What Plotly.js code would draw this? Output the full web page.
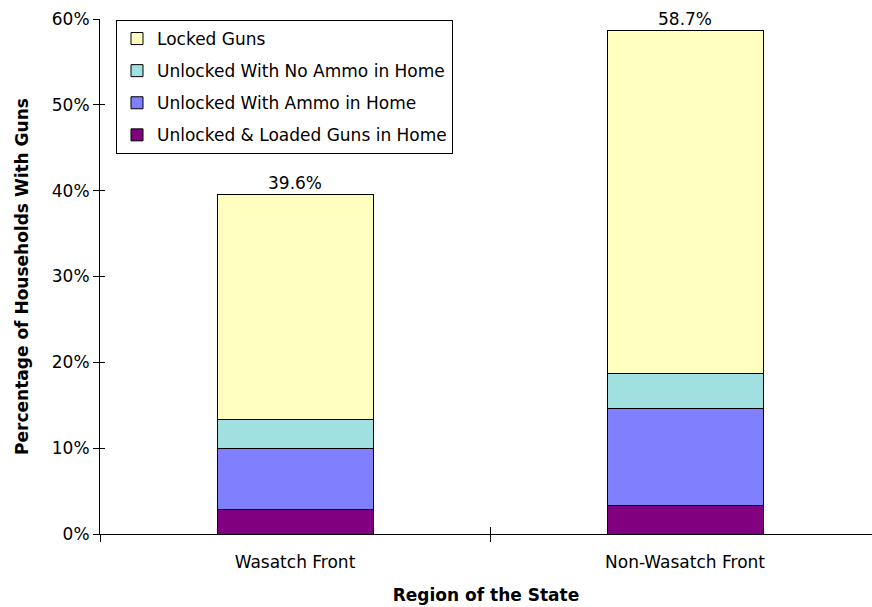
<!DOCTYPE html>
<html>
<head>
<meta charset="utf-8">
<script src="https://cdn.plot.ly/plotly-3.0.1.min.js"></script>
<style>html,body{margin:0;padding:0;background:#fff;}#chart{width:872px;height:607px;}</style>
</head>
<body>
<div id="chart"></div>
<script>
const regions = ["Wasatch Front", "Non-Wasatch Front"];
const loaded = [2.8, 3.3];
const ammo = [7.2, 11.3];
const noAmmo = [3.3, 4.1];
const locked = [26.3, 40.0];
const totals = [39.6, 58.7];
const seriesNames = ["Unlocked & Loaded Guns in Home", "Unlocked With Ammo in Home", "Unlocked With No Ammo in Home", "Locked Guns"];
const seriesColors = ["#800080", "#8080FF", "#A0E0E0", "#FFFFC0"];
const seriesData = [loaded, ammo, noAmmo, locked];

const font = "DejaVu Sans, sans-serif";
const traces = seriesData.map((d, i) => ({
  type: "bar",
  x: regions,
  y: d,
  name: seriesNames[i],
  legendgroup: "g" + i,
  legendrank: 10 - i,
  width: 0.4,
  marker: {color: seriesColors[i], line: {color: "#000", width: 1}},
  hoverinfo: "skip"
}));

// ghost trace on overlaying axes to get crossing ticks
traces.push({type: "bar", x: regions, y: [0, 0], xaxis: "x2", yaxis: "y2", showlegend: false, hoverinfo: "skip"});

const annotations = regions.map((r, i) => ({
  x: r, y: totals[i], xref: "x", yref: "y",
  text: totals[i].toFixed(1) + "%", showarrow: false,
  yanchor: "bottom", yshift: -1,
  font: {family: font, size: 17, color: "#000"}
}));

const xr = [-0.5, 1.5 - 8 / 390];
const layout = {
  width: 872, height: 607,
  margin: {l: 100, r: 0, t: 19, b: 73},
  paper_bgcolor: "#fff", plot_bgcolor: "#fff",
  barmode: "stack",
  showlegend: true,
  font: {family: font, color: "#000"},
  xaxis: {
    range: xr, type: "category", tickson: "boundaries",
    ticks: "outside", ticklen: 7, tickcolor: "#000", tickwidth: 1,
    ticklabelstandoff: 13,
    showline: true, linecolor: "#000", linewidth: 1,
    showgrid: false, zeroline: false,
    tickfont: {family: font, size: 17, color: "#000"},
    title: {text: "<b>Region of the State</b>", font: {family: font, size: 17, color: "#000"}, standoff: 17}
  },
  xaxis2: {
    overlaying: "x", range: xr, type: "category", tickson: "boundaries",
    ticks: "inside", ticklen: 7, tickcolor: "#000", tickwidth: 1,
    showticklabels: false, showgrid: false, zeroline: false, showline: false
  },
  yaxis: {
    range: [0, 60], dtick: 10, ticksuffix: "%",
    ticks: "outside", ticklen: 6, tickcolor: "#000", tickwidth: 1,
    showline: true, linecolor: "#000", linewidth: 1,
    showgrid: false, zeroline: false,
    tickfont: {family: font, size: 17, color: "#000"},
    title: {text: "<b>Percentage of Households With Guns</b>", font: {family: font, size: 17, color: "#000"}, standoff: 18}
  },
  yaxis2: {
    overlaying: "y", range: [0, 60], dtick: 10,
    ticks: "inside", ticklen: 5, tickcolor: "#000", tickwidth: 1,
    showticklabels: false, showgrid: false, zeroline: false, showline: false
  },
  legend: {
    x: 16 / 772, y: 1 - 1 / 515, xanchor: "left", yanchor: "top",
    bgcolor: "#fff", bordercolor: "#000", borderwidth: 1,
    traceorder: "grouped", tracegroupgap: 7,
    font: {family: font, size: 17, color: "#000"}
  },
  annotations: annotations
};

Plotly.newPlot("chart", traces, layout, {displayModeBar: false, staticPlot: true});
</script>
</body>
</html>
